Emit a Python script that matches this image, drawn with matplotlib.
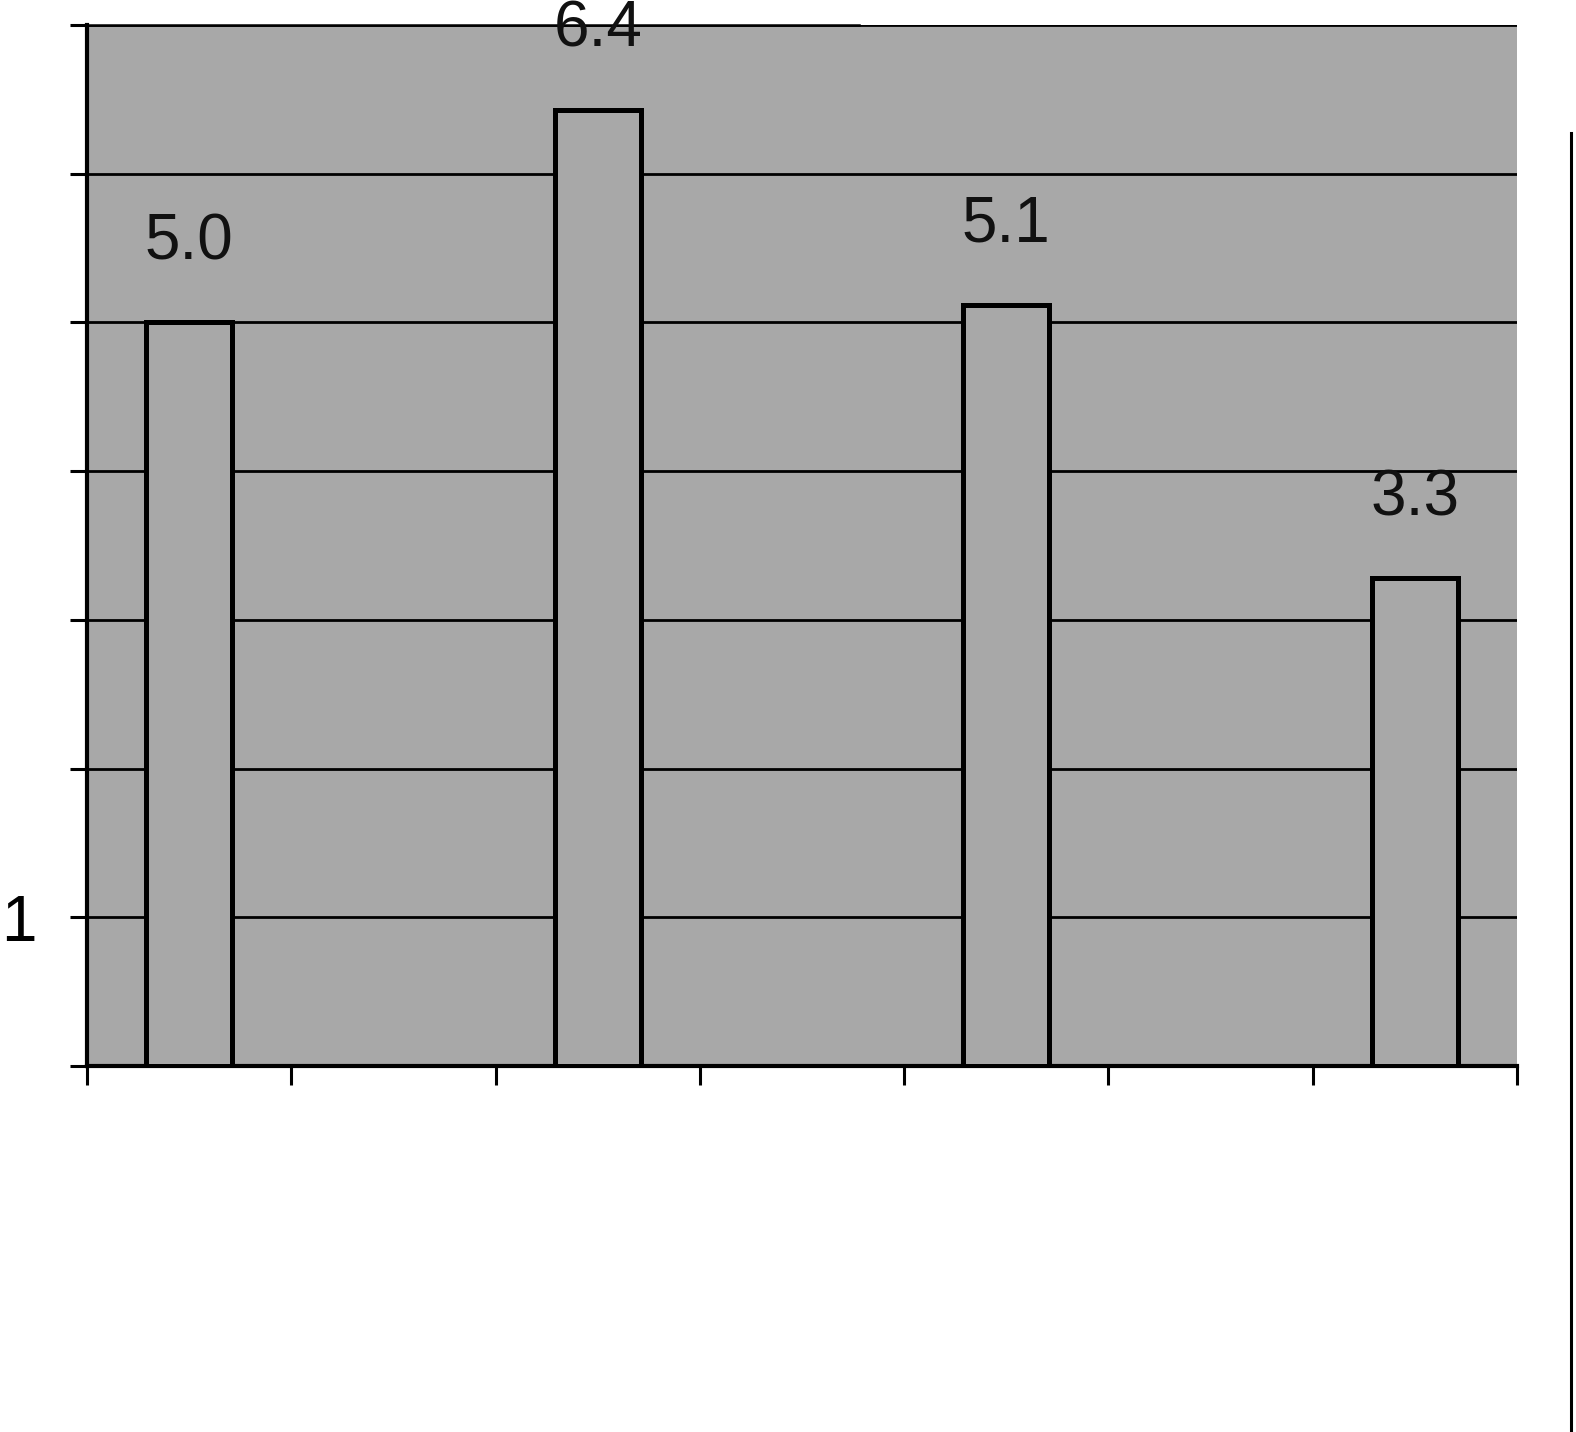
import numpy as np
import matplotlib
matplotlib.use('Agg')
import matplotlib.pyplot as plt
from matplotlib.lines import Line2D

plt.rcParams['font.family'] = ['Liberation Sans', 'DejaVu Sans']

# seven category slots, bars sit in every other slot
slots = ['', '', '', '', '', '', '']
values = [5.0, np.nan, 6.43, np.nan, 5.12, np.nan, 3.28]
y_ticks = [0, 1, 2, 3, 4, 5, 6, 7]
y_ticklabels = ['', '1', '', '', '', '', '', '']

fig = plt.figure(figsize=(15.76, 14.32), dpi=100)
ax = fig.add_axes([0.0552, 0.2556, 0.9074, 0.7269])

gray = '#a8a8a8'
ax.set_facecolor(gray)
x = np.arange(len(slots))
bars = ax.bar(x, values, width=0.42, color=gray, edgecolor='black',
              linewidth=3.6, zorder=3)

for xi, v in zip(x, values):
    if np.isnan(v):
        continue
    ax.annotate('%.1f' % v, (xi, v), xytext=(0, 36), textcoords='offset points',
                ha='center', va='bottom', fontsize=46, color='#111111')

ax.set_xlim(-0.5, len(slots) - 0.5)
ax.set_ylim(0, 7)
ax.set_xticks(np.arange(-0.5, len(slots), 1))
ax.set_xticklabels([''] * (len(slots) + 1))
ax.set_yticks(y_ticks)
ax.set_yticklabels(y_ticklabels, fontsize=46)

ax.yaxis.grid(True, color='black', linewidth=2)
ax.set_axisbelow(True)
ax.tick_params(axis='y', direction='out', length=12, width=2.2, pad=24)
ax.tick_params(axis='x', direction='out', length=14, width=2.2)

ax.spines['right'].set_visible(False)
ax.spines['left'].set_linewidth(3)
ax.spines['bottom'].set_linewidth(3)
ax.spines['top'].set_linewidth(1.8)
ax.spines['top'].set_bounds(-0.5, 3.28)

# vertical border line at the right of the page
fig.add_artist(Line2D([0.9968, 0.9968], [0.0, 0.907], color='black', linewidth=2.2))

fig.savefig('out.png', dpi=100)
